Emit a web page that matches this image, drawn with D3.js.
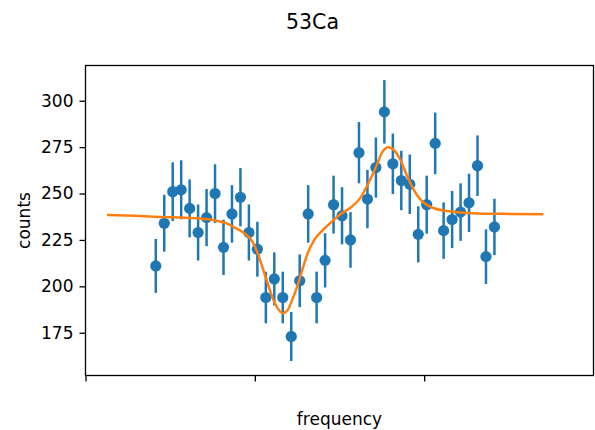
<!DOCTYPE html>
<html>
<head>
<meta charset="utf-8">
<script src="https://cdn.jsdelivr.net/npm/d3@7/dist/d3.min.js"></script>
<style>
  html, body { margin: 0; padding: 0; background: #fff; }
  text { font-family: "DejaVu Sans", sans-serif; fill: #000; }
</style>
</head>
<body>
<svg id="chart" width="595" height="430"></svg>
<script>
// ---- data ----
const title = "53Ca";
const xLabel = "frequency";
const yLabel = "counts";

const freq = [0.415, 0.465, 0.515, 0.565, 0.615, 0.665, 0.715, 0.765, 0.815, 0.865,
              0.915, 0.965, 1.015, 1.065, 1.115, 1.165, 1.215, 1.265, 1.315, 1.365,
              1.415, 1.465, 1.515, 1.565, 1.615, 1.665, 1.715, 1.765, 1.815, 1.865,
              1.915, 1.965, 2.015, 2.065, 2.115, 2.165, 2.215, 2.265, 2.315, 2.365, 2.415];
const counts = [211, 234, 251, 252, 242, 229, 237, 250, 221, 239,
                248, 229, 220, 194, 204, 194, 173, 203, 239, 194,
                214, 244, 238, 225, 272, 247, 264, 294, 266, 257,
                255, 228, 244, 277, 230, 236, 240, 245, 265, 216, 232];
const errors = [14.5, 15.3, 15.8, 15.9, 15.6, 15.1, 15.4, 15.8, 14.9, 15.5,
                15.7, 15.1, 14.8, 13.9, 14.3, 13.9, 13.2, 14.2, 15.5, 13.9,
                14.6, 15.6, 15.4, 15.0, 16.5, 15.7, 16.2, 17.1, 16.3, 16.0,
                16.0, 15.1, 15.6, 16.6, 15.2, 15.4, 15.5, 15.7, 16.3, 14.7, 15.2];

// fitted curve
const fitX = [0.127, 0.322, 0.440, 0.558, 0.676, 0.755, 0.834, 0.889, 0.938, 0.987,
              1.017, 1.047, 1.076, 1.106, 1.135, 1.165, 1.194, 1.224, 1.253, 1.283,
              1.312, 1.351, 1.401, 1.460, 1.503, 1.562, 1.621, 1.680, 1.720, 1.749,
              1.788, 1.818, 1.857, 1.897, 1.936, 1.985, 2.054, 2.133, 2.212, 2.318,
              2.517, 2.704];
const fitY = [238.4, 237.9, 237.4, 237.1, 236.6, 235.7, 233.9, 231.2, 228.6, 224.0,
              217.8, 209.7, 201.6, 193.5, 188.1, 185.5, 187.2, 193.5, 200.7, 209.7,
              217.8, 225.0, 230.3, 235.3, 238.7, 242.2, 247.4, 257.3, 265.4, 271.7,
              274.9, 273.7, 268.6, 260.0, 252.4, 246.0, 242.2, 240.6, 239.8, 239.3,
              239.0, 238.8];

const xTicks = [0, 1, 2];
const yTicks = [175, 200, 225, 250, 275, 300];

// ---- layout ----
const svg = d3.select("#chart");
const L = 85.5, R = 593.5, T = 65.5, B = 375.5;

const x = d3.scaleLinear().domain([0, 3]).range([L, R]);
const y = d3.scaleLinear().domain([151.97, 318.97]).range([B, T]);

const blue = "#1f77b4", orange = "#ff7f0e";

// title
svg.append("text").attr("x", 312.5).attr("y", 29)
  .attr("text-anchor", "middle").style("font-size", "20.5px").text(title);

// axes
const xAxis = d3.axisBottom(x).tickValues(xTicks).tickFormat("").tickSizeOuter(0).tickSizeInner(6);
const yAxis = d3.axisLeft(y).tickValues(yTicks).tickSizeOuter(0).tickSizeInner(6).tickPadding(6);

const gx = svg.append("g").attr("transform", `translate(0,${B})`).call(xAxis);
const gy = svg.append("g").attr("transform", `translate(${L},0)`).call(yAxis);
[gx, gy].forEach(g => {
  g.select(".domain").remove();
  g.selectAll(".tick line").attr("stroke", "#000").attr("stroke-width", 1.3);
  g.selectAll(".tick text").style("font-size", "17px").style("font-family", "DejaVu Sans").attr("fill", "#000");
});

// data: error bars
const plot = svg.append("g");
const pts = freq.map((f, i) => ({ f, c: counts[i], e: errors[i] }));
plot.selectAll("line.err").data(pts).enter().append("line")
  .attr("class", "err")
  .attr("x1", d => x(d.f)).attr("x2", d => x(d.f))
  .attr("y1", d => y(d.c - d.e)).attr("y2", d => y(d.c + d.e))
  .attr("stroke", blue).attr("stroke-width", 2.5);

// markers
plot.selectAll("circle").data(pts).enter().append("circle")
  .attr("cx", d => x(d.f)).attr("cy", d => y(d.c)).attr("r", 5.6)
  .attr("fill", blue);

// fit line
const fit = fitX.map((v, i) => [v, fitY[i]]);
plot.append("path").datum(fit)
  .attr("fill", "none").attr("stroke", orange).attr("stroke-width", 2.5)
  .attr("stroke-linejoin", "round")
  .attr("d", d3.line().x(d => x(d[0])).y(d => y(d[1])).curve(d3.curveMonotoneX));

// frame
svg.append("rect").attr("x", L).attr("y", T).attr("width", R - L).attr("height", B - T)
  .attr("fill", "none").attr("stroke", "#000").attr("stroke-width", 1.3);

// axis labels
svg.append("text").attr("x", (L + R) / 2).attr("y", 424.5)
  .attr("text-anchor", "middle").style("font-size", "17px").text(xLabel);
svg.append("text").attr("transform", `translate(30,${(T + B) / 2}) rotate(-90)`)
  .attr("text-anchor", "middle").style("font-size", "17px").text(yLabel);
</script>
</body>
</html>
